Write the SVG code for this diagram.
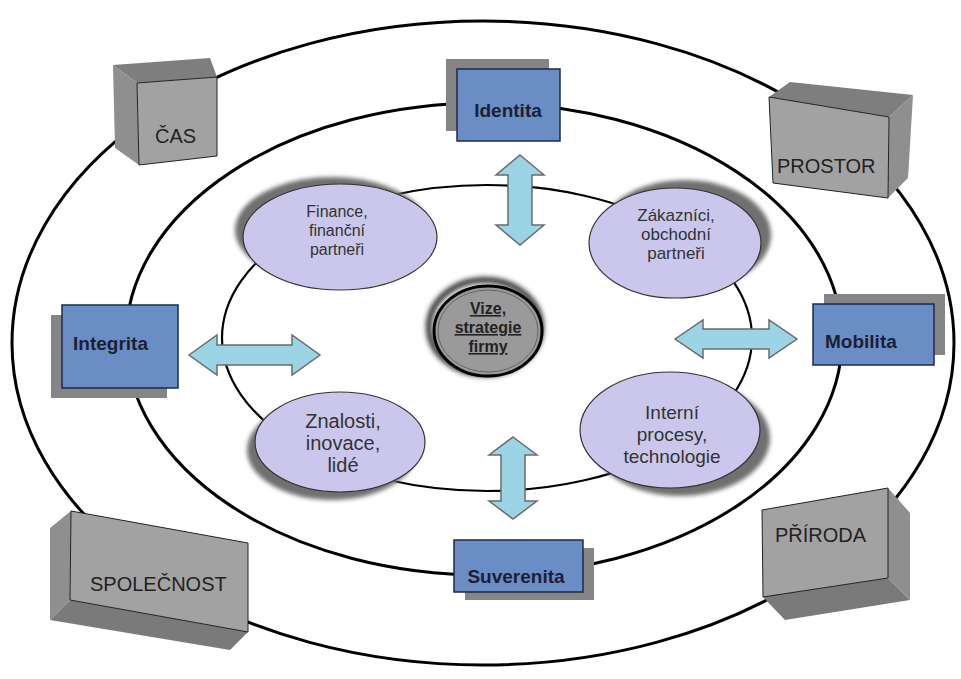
<svg xmlns="http://www.w3.org/2000/svg" width="961" height="679" viewBox="0 0 961 679">
<defs>
<filter id="blur" x="-20%" y="-20%" width="140%" height="140%"><feGaussianBlur stdDeviation="2"/></filter>
<filter id="blur4" x="-30%" y="-30%" width="160%" height="160%"><feGaussianBlur stdDeviation="2.5"/></filter>
</defs>
<style>
.ring{fill:none;stroke:#000;stroke-width:3}
.ring2{fill:none;stroke:#000;stroke-width:2.2}
.top{fill:#7e7e7e}
.side{fill:#8f8f8f}
.bot{fill:#7a7a7a}
.front{fill:#a2a2a2;stroke:#222;stroke-width:1}
.gtxt{font-family:"Liberation Sans",Arial,sans-serif;font-size:20px;fill:#222}
.bshadow{fill:#858585}
.blue{fill:#6b8dc5;stroke:#1c2a48;stroke-width:1.5}
.btxt{font-family:"Liberation Sans",Arial,sans-serif;font-size:19px;font-weight:bold;fill:#1b1f33}
.esh{fill:#6f6f6f;filter:url(#blur)}
.lav{fill:#cbc7ec;stroke:#333;stroke-width:1.2}
.etxt{font-family:"Liberation Sans",Arial,sans-serif;fill:#333;text-anchor:middle}
.arrow{fill:#9bd4e5;stroke:#6b6b6b;stroke-width:1.5;stroke-linejoin:miter}
.ctxt{font-family:"Liberation Sans",Arial,sans-serif;font-size:16px;font-weight:bold;fill:#222;text-anchor:middle;text-decoration:underline}
</style>

<g id="rings">
<ellipse class="ring" cx="483" cy="343" rx="471" ry="322"/>
<ellipse class="ring" cx="484" cy="339" rx="358" ry="236"/>
<ellipse class="ring2" cx="487" cy="338" rx="265" ry="153"/>
</g>

<g id="cas">
<polygon class="top" points="113,65 210,58 217,77 137,83"/>
<polygon class="side" points="113,65 137,83 139,165 115,148"/>
<polygon class="front" points="137,83 217,77 217,156 139,165"/>
<text class="gtxt" x="155" y="143">ČAS</text>
</g>
<g id="prostor">
<polygon class="top" points="769,97 790,82 913,95 889,117"/>
<polygon class="side" points="889,117 913,95 908,178 888,198"/>
<polygon class="front" points="769,97 889,117 888,198 773,183"/>
<text class="gtxt" x="777" y="173">PROSTOR</text>
</g>
<g id="spolecnost">
<polygon class="side" points="50,528 71,511 70,600 50,620"/>
<polygon class="bot" points="50,620 70,600 248,632 230,650"/>
<polygon class="front" points="71,511 248,543 248,632 70,600"/>
<text class="gtxt" x="90" y="591">SPOLEČNOST</text>
</g>
<g id="priroda">
<polygon class="side" points="888,488 910,513 910,600 888,578"/>
<polygon class="bot" points="763,597 888,578 910,600 785,620"/>
<polygon class="front" points="762,510 888,488 888,578 763,597"/>
<text class="gtxt" x="775" y="542">PŘÍRODA</text>
</g>

<g id="identita">
<rect class="bshadow" x="446" y="59" width="103" height="72"/>
<rect class="blue" x="457" y="69" width="103" height="72"/>
<text class="btxt" x="508" y="117" text-anchor="middle">Identita</text>
</g>
<g id="integrita">
<rect class="bshadow" x="51" y="315" width="116" height="83"/>
<rect class="blue" x="62" y="305" width="116" height="83"/>
<text class="btxt" x="73" y="350">Integrita</text>
</g>
<g id="mobilita">
<rect class="bshadow" x="824" y="294" width="121" height="61"/>
<rect class="blue" x="813" y="304" width="121" height="61"/>
<text class="btxt" x="825" y="348">Mobilita</text>
</g>
<g id="suverenita">
<rect class="bshadow" x="465" y="548" width="129" height="52"/>
<rect class="blue" x="454" y="540" width="129" height="52"/>
<text class="btxt" x="516" y="583" text-anchor="middle">Suverenita</text>
</g>

<g id="finance">
<ellipse class="esh" cx="332" cy="230" rx="97" ry="53"/>
<ellipse class="lav" cx="340" cy="237" rx="97" ry="53"/>
<text class="etxt" font-size="16" x="337"><tspan x="337" y="217">Finance,</tspan><tspan x="337" y="236">finanční</tspan><tspan x="337" y="255">partneři</tspan></text>
</g>
<g id="zakaznici">
<ellipse class="esh" cx="685" cy="235" rx="86" ry="55"/>
<ellipse class="lav" cx="675" cy="243" rx="86" ry="55"/>
<text class="etxt" font-size="17" x="676"><tspan x="676" y="221">Zákazníci,</tspan><tspan x="676" y="240">obchodní</tspan><tspan x="676" y="259">partneři</tspan></text>
</g>
<g id="znalosti">
<ellipse class="esh" cx="332" cy="450" rx="85" ry="50"/>
<ellipse class="lav" cx="340" cy="442" rx="85" ry="50"/>
<text class="etxt" font-size="20" x="343"><tspan x="343" y="428">Znalosti,</tspan><tspan x="343" y="450">inovace,</tspan><tspan x="343" y="472">lidé</tspan></text>
</g>
<g id="interni">
<ellipse class="esh" cx="680" cy="438" rx="90" ry="58"/>
<ellipse class="lav" cx="670" cy="430" rx="90" ry="58"/>
<text class="etxt" font-size="19" x="672"><tspan x="672" y="419">Interní</tspan><tspan x="672" y="441">procesy,</tspan><tspan x="672" y="463">technologie</tspan></text>
</g>

<g id="connectors">
<polygon class="arrow" points="520,155 544,175 532,175 532,225 544,225 520,245 496,225 508,225 508,175 496,175"/>
<polygon class="arrow" points="513,437 537,455 525,455 525,501 537,501 513,519 489,501 501,501 501,455 489,455"/>
<polygon class="arrow" points="189,355 217,335 217,345 292,345 292,335 320,355 292,375 292,365 217,365 217,375"/>
<polygon class="arrow" points="675,339 703,320 703,329 769,329 769,320 797,339 769,358 769,349 703,349 703,358"/>
</g>

<g id="vize">
<ellipse cx="485" cy="327" rx="56" ry="47" fill="none" stroke="#333" stroke-width="6" filter="url(#blur4)"/>
<ellipse cx="488" cy="331" rx="54" ry="45" fill="#9a9a9a" stroke="#000" stroke-width="3"/>
<ellipse cx="488" cy="331" rx="50" ry="41" fill="none" stroke="#666" stroke-width="1"/>
<text class="ctxt"><tspan x="488" y="314">Vize,</tspan><tspan x="488" y="333">strategie</tspan><tspan x="488" y="352">firmy</tspan></text>
</g>
</svg>
